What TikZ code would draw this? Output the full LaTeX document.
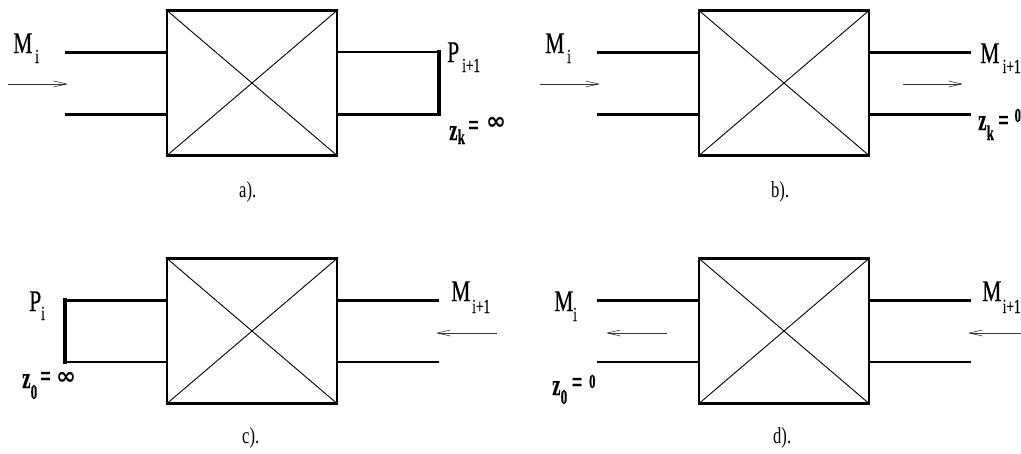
\documentclass[tikz,border=0pt]{standalone}
\usepackage{fontspec}
\setmainfont{Liberation Serif}
\newfontfamily\nrw[FakeStretch=0.72,FakeBold=0.4]{Liberation Serif}
\newfontfamily\nrws[FakeStretch=0.67,FakeBold=0.3]{Liberation Serif}
\newfontfamily\capfnt[FakeStretch=0.72]{Liberation Serif}
\newfontfamily\nrwb[FakeStretch=0.62,FakeBold=0.3]{Liberation Serif Bold}
\newfontfamily\inff{DejaVu Sans Bold}
\usetikzlibrary{arrows.meta}
\tikzset{
  x=1pt,y=-1pt,
  blockbox/.style={draw,line width=2.7pt,minimum width=170pt,minimum height=145pt,inner sep=0pt,outer sep=0pt},
  diag/.style={line width=0.9pt},
  stub/.style={line width=3pt},
  thinstub/.style={line width=2.5pt},
  shortwall/.style={line width=4.5pt,line cap=rect},
  flow/.style={line width=0.7pt,draw=black!80,-{Straight Barb[length=13pt,width=6pt,line width=0.6pt]}},
  big/.style={anchor=base west,inner sep=0pt,font=\fontsize{30}{30}\nrw},
  small/.style={anchor=base west,inner sep=0pt,font=\fontsize{20}{20}\nrws},
  bigb/.style={anchor=base west,inner sep=0pt,font=\fontsize{30}{30}\nrwb},
  smallb/.style={anchor=base west,inner sep=0pt,font=\fontsize{21}{21}\nrwb},
  tiny0/.style={anchor=base west,inner sep=0pt,font=\fontsize{20}{20}\nrwb},
  infty/.style={anchor=center,inner sep=0pt,font=\fontsize{24}{24}\inff},
  caption/.style={anchor=base west,inner sep=0pt,font=\fontsize{23}{23}\capfnt},
}
\newcommand{\crossbox}[3]{%
  \node[blockbox] (#1) at (#2,#3) {};
  \draw[diag] (#1.north west) -- (#1.south east);
  \draw[diag] (#1.north east) -- (#1.south west);
}
\begin{document}
\begin{tikzpicture}
\useasboundingbox (0,0) rectangle (1021,453);
% ---------- a
\crossbox{A}{252}{83}
\coordinate (al1) at (65,52); \coordinate (al2) at (65,114);
\coordinate (ar1) at (439,52); \coordinate (ar2) at (439,114);
\draw[stub] (al1) -- (A.west |- al1);
\draw[stub] (al2) -- (A.west |- al2);
\draw[thinstub] (ar1) -- (A.east |- ar1);
\draw[stub] (ar2) -- (A.east |- ar2);
\draw[shortwall] (ar1) -- (ar2);
\coordinate (af1) at (8,84); \coordinate (af2) at (68,84);
\draw[flow] (af1) -- (af2);
\node[big] (aM) at (13,53) {M};
\node[small] (aMs) at (35,63) {i};
\node[big] (aP) at (447,62) {P};
\node[small] (aPs) at (462,72) {i+1};
\node[bigb] (aZ) at (449,140) {z};
\node[smallb] (aZs) at (457.5,144) {k};
\node[bigb] (aEq) at (468,135) {=};
\node[infty] (aInf) at (496,123) {∞};
\node[caption] (aC) at (239,197) {a).};
% ---------- b
\crossbox{B}{784}{83}
\coordinate (bl1) at (597,52); \coordinate (bl2) at (597,114);
\coordinate (br1) at (971,52); \coordinate (br2) at (971,114);
\draw[stub] (bl1) -- (B.west |- bl1);
\draw[stub] (bl2) -- (B.west |- bl2);
\draw[stub] (br1) -- (B.east |- br1);
\draw[stub] (br2) -- (B.east |- br2);
\coordinate (bf1) at (540,84); \coordinate (bf2) at (600,84);
\coordinate (bf3) at (903,84); \coordinate (bf4) at (963,84);
\draw[flow] (bf1) -- (bf2);
\draw[flow] (bf3) -- (bf4);
\node[big] (bM) at (545,53) {M};
\node[small] (bMs) at (567,63) {i};
\node[big] (bN) at (980,63) {M};
\node[small] (bNs) at (1002.5,73) {i+1};
\node[bigb] (bZ) at (978,130) {z};
\node[smallb] (bZs) at (986.5,140) {k};
\node[bigb] (bEq) at (998,130) {=};
\node[tiny0] (b0) at (1014.5,122) {0};
\node[caption] (bC) at (771,197) {b).};
% ---------- c
\crossbox{C}{252}{331}
\coordinate (cl1) at (65,300); \coordinate (cl2) at (65,362);
\coordinate (cr1) at (439,300); \coordinate (cr2) at (439,362);
\draw[stub] (cl1) -- (C.west |- cl1);
\draw[thinstub] (cl2) -- (C.west |- cl2);
\draw[stub] (cr1) -- (C.east |- cr1);
\draw[thinstub] (cr2) -- (C.east |- cr2);
\draw[shortwall] (cl1) -- (cl2);
\coordinate (cf1) at (497,333); \coordinate (cf2) at (436,333);
\draw[flow] (cf1) -- (cf2);
\node[big] (cP) at (29,311) {P};
\node[small] (cPs) at (41,320) {i};
\node[bigb] (cZ) at (22,388) {z};
\node[smallb] (cZs) at (30.5,399) {0};
\node[bigb] (cEq) at (40,386) {=};
\node[infty] (cInf) at (66,378) {∞};
\node[big] (cM) at (451,301) {M};
\node[small] (cMs) at (472,313) {i+1};
\node[caption] (cC) at (242,443) {c).};
% ---------- d
\crossbox{D}{784}{331}
\coordinate (dl1) at (597,300); \coordinate (dl2) at (597,362);
\coordinate (dr1) at (971,300); \coordinate (dr2) at (971,362);
\draw[stub] (dl1) -- (D.west |- dl1);
\draw[thinstub] (dl2) -- (D.west |- dl2);
\draw[stub] (dr1) -- (D.east |- dr1);
\draw[thinstub] (dr2) -- (D.east |- dr2);
\coordinate (df1) at (667,333); \coordinate (df2) at (606,333);
\coordinate (df3) at (1021,333); \coordinate (df4) at (968,333);
\draw[flow] (df1) -- (df2);
\draw[flow] (df3) -- (df4);
\node[big] (dM) at (554,311) {M};
\node[small] (dMs) at (573,321) {i};
\node[big] (dN) at (982,301) {M};
\node[small] (dNs) at (1002.5,313) {i+1};
\node[bigb] (dZ) at (552,395) {z};
\node[smallb] (dZs) at (560.5,404) {0};
\node[bigb] (dEq) at (571.5,392) {=};
\node[tiny0] (d0) at (589,388) {0};
\node[caption] (dC) at (773,443) {d).};
\end{tikzpicture}
\end{document}
